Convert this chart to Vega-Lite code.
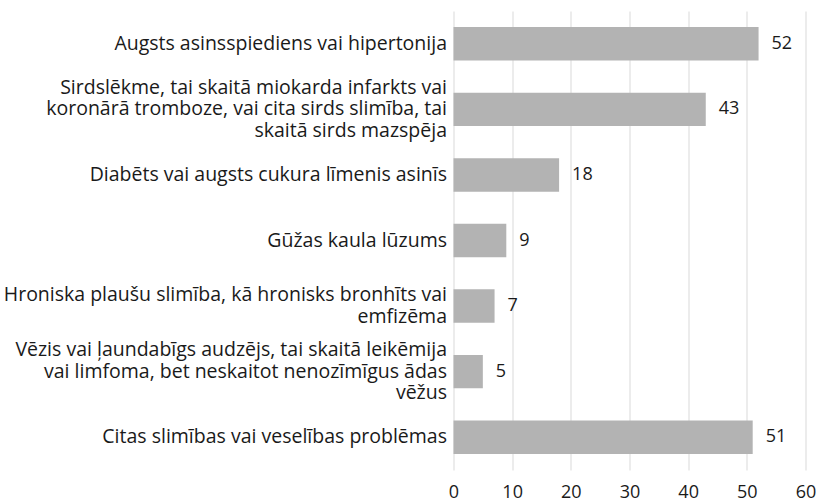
{
  "$schema": "https://vega.github.io/schema/vega-lite/v6.json",
  "autosize": "none",
  "width": 352,
  "height": 459,
  "padding": {"left": 453.5, "top": 11, "right": 14.5, "bottom": 31},
  "background": "white",
  "config": {
    "view": {"stroke": null},
    "font": "Open Sans"
  },
  "data": {
    "values": [
      {"label": "Augsts asinsspiediens vai hipertonija", "value": 52, "order": 1},
      {"label": "Sirdslēkme, tai skaitā miokarda infarkts vai|koronārā tromboze, vai cita sirds slimība, tai|skaitā sirds mazspēja", "value": 43, "order": 2},
      {"label": "Diabēts vai augsts cukura līmenis asinīs", "value": 18, "order": 3},
      {"label": "Gūžas kaula lūzums", "value": 9, "order": 4},
      {"label": "Hroniska plaušu slimība, kā hronisks bronhīts vai|emfizēma", "value": 7, "order": 5},
      {"label": "Vēzis vai ļaundabīgs audzējs, tai skaitā leikēmija|vai limfoma, bet neskaitot nenozīmīgus ādas|vēžus", "value": 5, "order": 6},
      {"label": "Citas slimības vai veselības problēmas", "value": 51, "order": 7}
    ]
  },
  "encoding": {
    "y": {
      "field": "label",
      "type": "nominal",
      "sort": {"field": "order", "order": "ascending"},
      "title": null,
      "scale": {"paddingInner": 0.49, "paddingOuter": 0.245},
      "axis": {
        "labelExpr": "split(datum.label, '|')",
        "labelFontSize": 19.5,
        "labelColor": "#1a1a1a",
        "labelLineHeight": 21.7,
        "labelPadding": 7,
        "labelLimit": 500,
        "labelOffset": {
          "condition": [
            {"test": "length(split(datum.value, '|')) == 3", "value": -21.7},
            {"test": "length(split(datum.value, '|')) == 2", "value": -10.85}
          ],
          "value": 0
        },
        "ticks": false,
        "domain": false,
        "grid": false
      }
    },
    "x": {
      "field": "value",
      "type": "quantitative",
      "title": null,
      "scale": {"domain": [0, 60], "nice": false},
      "axis": {
        "values": [0, 10, 20, 30, 40, 50, 60],
        "labelFontSize": 18,
        "labelColor": "#1a1a1a",
        "labelPadding": 13,
        "ticks": false,
        "domain": false,
        "grid": true,
        "gridColor": "#d9d9d9",
        "gridWidth": 1,
        "labelFlush": false
      }
    }
  },
  "layer": [
    {"mark": {"type": "bar", "color": "#b3b3b3"}},
    {
      "mark": {"type": "text", "align": "left", "baseline": "middle", "dx": 13, "fontSize": 18, "color": "#1a1a1a"},
      "encoding": {"text": {"field": "value", "type": "quantitative"}}
    }
  ]
}
